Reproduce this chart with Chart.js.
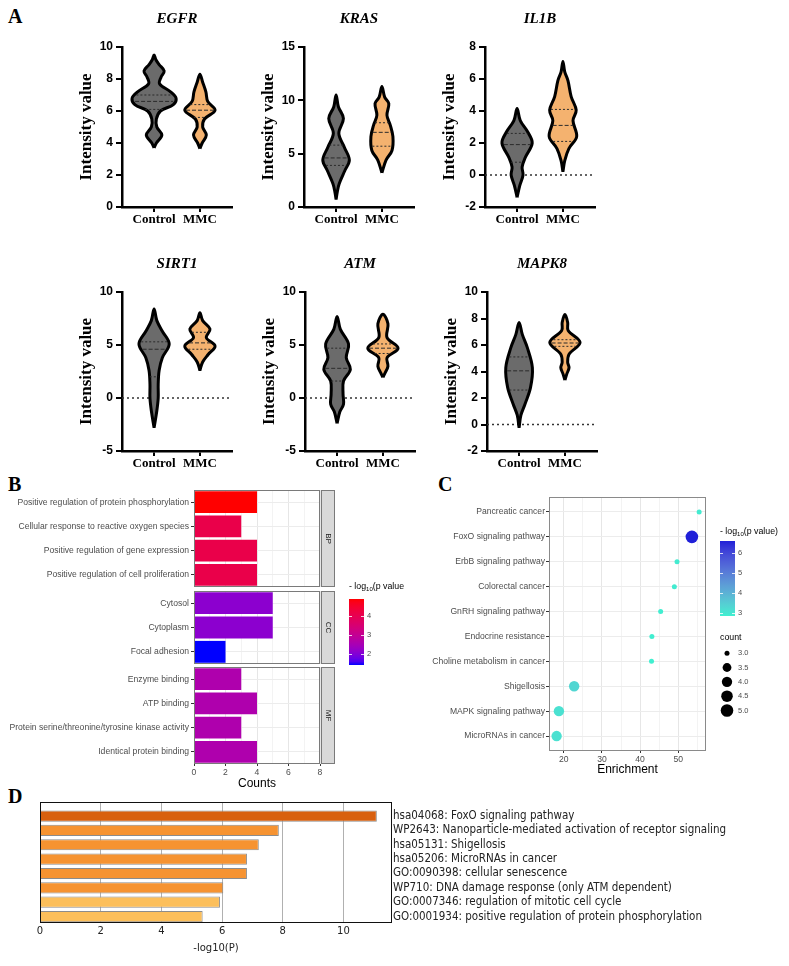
<!DOCTYPE html>
<html>
<head>
<meta charset="utf-8">
<script src="https://cdn.jsdelivr.net/npm/chart.js@4.4.0/dist/chart.umd.min.js"></script>
<style>
  body { margin: 0; background: #fff; width: 789px; height: 966px; position: relative; overflow: hidden; }
  canvas { position: absolute; }
  .panel { position: absolute; font: bold 20px 'Liberation Serif', 'Times New Roman', serif; color: #000; }
</style>
</head>
<body>
<div class="panel" style="left:8px;top:5px">A</div>
<div class="panel" style="left:8px;top:473px">B</div>
<div class="panel" style="left:438px;top:473px">C</div>
<div class="panel" style="left:8px;top:785px">D</div>
<script>
// ---------- Panel A: violin profiles [value, half width] ----------
const groups = ['Control', 'MMC'];
const egfrControl = [[3.7,0],[4.0,0.05],[4.5,0.17],[5.0,0.06],[5.5,0.05],[6.0,0.14],[6.4,0.42],[6.8,0.48],[7.2,0.36],[7.7,0.12],[8.1,0.15],[8.5,0.22],[8.9,0.11],[9.2,0.04],[9.5,0]];
const egfrMMC = [[3.65,0],[4.0,0.05],[4.5,0.14],[5.0,0.06],[5.5,0.1],[6.05,0.33],[6.6,0.17],[7.2,0.13],[7.8,0.06],[8.3,0]];
const krasControl = [[0.7,0],[1.5,0.03],[2.2,0.07],[3.4,0.19],[4.4,0.29],[5.6,0.18],[6.9,0.06],[8.3,0.16],[9.4,0.05],[10.5,0]];
const krasMMC = [[3.2,0],[4.4,0.09],[5.3,0.22],[6.6,0.24],[7.7,0.18],[8.6,0.11],[9.7,0.15],[10.3,0.06],[11.3,0]];
const il1bControl = [[-1.4,0],[-0.65,0.06],[0,0.13],[0.5,0.11],[1.1,0.18],[2.0,0.33],[2.7,0.23],[3.4,0.07],[4.15,0]];
const il1bMMC = [[0.2,0],[0.9,0.04],[1.65,0.13],[2.4,0.3],[3.4,0.22],[4.05,0.29],[4.9,0.18],[5.9,0.11],[6.45,0.04],[7.1,0]];
const sirt1Control = [[-2.8,0],[-1.2,0.06],[0,0.09],[1.3,0.09],[2.6,0.11],[3.8,0.18],[5.1,0.33],[6.3,0.18],[7.3,0.06],[8.4,0]];
const sirt1MMC = [[2.6,0],[3.4,0.06],[4.1,0.18],[4.9,0.33],[5.7,0.14],[6.5,0.22],[7.3,0.06],[8.05,0]];
const atmControl = [[-2.4,0],[-1.3,0.06],[-0.6,0.14],[0.4,0.13],[1.6,0.14],[2.7,0.29],[3.8,0.2],[5.1,0.25],[6.5,0.07],[7.7,0]];
const atmMMC = [[1.95,0],[2.3,0.04],[3.0,0.11],[3.8,0.09],[4.7,0.33],[5.7,0.09],[7.0,0.11],[7.9,0]];
const mapk8Control = [[-0.25,0],[0.7,0.04],[1.55,0.13],[2.8,0.25],[4.3,0.29],[5.8,0.18],[6.8,0.07],[7.7,0]];
const mapk8MMC = [[3.35,0],[3.8,0.04],[4.3,0.09],[4.7,0.06],[5.3,0.09],[6.2,0.33],[7.1,0.07],[7.7,0.06],[8.3,0]];
// quartiles [q1, median, q3] per group
const egfrQuart = [[6.1,6.6,7.0],[5.6,6.05,6.4]];
const krasQuart = [[3.9,4.6,5.8],[5.7,7.0,7.9]];
const il1bQuart = [[0.8,1.9,2.6],[2.1,3.1,4.1]];
const sirt1Quart = [[2.0,4.6,5.3],[4.6,5.2,6.2]];
const atmQuart = [[1.6,2.8,4.7],[4.2,4.7,5.1]];
const mapk8Quart = [[2.6,4.05,5.1],[5.9,6.15,6.4]];

// ---------- Panel B: GO terms ----------
const bpTerms = ['Positive regulation of protein phosphorylation','Cellular response to reactive oxygen species','Positive regulation of gene expression','Positive regulation of cell proliferation'];
const bpCounts = [4, 3, 4, 4];
const bpLogP = [4.88, 4.1, 4.1, 4.1];
const ccTerms = ['Cytosol','Cytoplasm','Focal adhesion'];
const ccCounts = [5, 5, 2];
const ccLogP = [2.1, 2.1, 1.42];
const mfTerms = ['Enzyme binding','ATP binding','Protein serine/threonine/tyrosine kinase activity','Identical protein binding'];
const mfCounts = [3, 4, 3, 4];
const mfLogP = [2.6, 2.6, 2.6, 2.6];

// ---------- Panel C: KEGG ----------
const cTerms = ['Pancreatic cancer','FoxO signaling pathway','ErbB signaling pathway','Colorectal cancer','GnRH signaling pathway','Endocrine resistance','Choline metabolism in cancer','Shigellosis','MAPK signaling pathway','MicroRNAs in cancer'];
const cEnrich = [55.5, 53.6, 49.7, 49.0, 45.4, 43.1, 43.0, 22.7, 18.7, 18.1];
const cCount = [3, 5, 3, 3, 3, 3, 3, 4, 4, 4];
const cLogP = [2.9, 6.58, 2.9, 2.9, 2.85, 2.85, 2.83, 3.3, 3.1, 3.1];
const countLevels = [3.0, 3.5, 4.0, 4.5, 5.0];

// ---------- Panel D: Metascape ----------
const dTerms = ['hsa04068: FoxO signaling pathway','WP2643: Nanoparticle-mediated activation of receptor signaling','hsa05131: Shigellosis','hsa05206: MicroRNAs in cancer','GO:0090398: cellular senescence','WP710: DNA damage response (only ATM dependent)','GO:0007346: regulation of mitotic cell cycle','GO:0001934: positive regulation of protein phosphorylation'];
const dLogP = [11.1, 7.87, 7.21, 6.82, 6.82, 6.04, 5.93, 5.36];

Chart.defaults.animation = false;
Chart.defaults.responsive = false;
Chart.defaults.plugins.legend.display = false;
Chart.defaults.plugins.tooltip.enabled = false;

function makeCanvas(left, top, w, h) {
  const c = document.createElement('canvas');
  c.width = w; c.height = h;
  c.style.left = left + 'px'; c.style.top = top + 'px';
  c.style.width = w + 'px'; c.style.height = h + 'px';
  document.body.appendChild(c);
  return c;
}
// fixed size axis without the label overhang padding
function fixWidth(w) { return s => { s.width = w; s.paddingTop = 0; s.paddingBottom = 0; }; }

// colour gradients interpolated in Lab, like ggplot
function hexRgb(h) { return [1,3,5].map(i => parseInt(h.substr(i, 2), 16)); }
function toLin(c) { c /= 255; return c <= 0.04045 ? c / 12.92 : Math.pow((c + 0.055) / 1.055, 2.4); }
function toSrgb(c) { c = c <= 0.0031308 ? 12.92 * c : 1.055 * Math.pow(c, 1 / 2.4) - 0.055; return Math.round(Math.max(0, Math.min(1, c)) * 255); }
function rgbLab(rgb) {
  const [r, g, b] = rgb.map(toLin);
  const x = (0.4124*r + 0.3576*g + 0.1805*b) / 0.95047, y = 0.2126*r + 0.7152*g + 0.0722*b, z = (0.0193*r + 0.1192*g + 0.9505*b) / 1.08883;
  const f = t => t > 0.008856 ? Math.cbrt(t) : 7.787*t + 16/116;
  return [116*f(y) - 16, 500*(f(x) - f(y)), 200*(f(y) - f(z))];
}
function labRgb([L, a, b]) {
  const fy = (L + 16) / 116, fx = fy + a / 500, fz = fy - b / 200;
  const fi = t => t*t*t > 0.008856 ? t*t*t : (t - 16/116) / 7.787;
  const x = fi(fx) * 0.95047, y = fi(fy), z = fi(fz) * 1.08883;
  return [3.2406*x - 1.5372*y - 0.4986*z, -0.9689*x + 1.8758*y + 0.0415*z, 0.0557*x - 0.2040*y + 1.0570*z].map(toSrgb);
}
function gradient(lo, hi, vmin, vmax) {
  const A = rgbLab(hexRgb(lo)), B = rgbLab(hexRgb(hi));
  return v => {
    const t = Math.max(0, Math.min(1, (v - vmin) / (vmax - vmin)));
    return 'rgb(' + labRgb(A.map((a, i) => a + (B[i] - a) * t)).join(',') + ')';
  };
}
const goColor = gradient('#0000ff', '#ff0000', 1.42, 4.88);
const keggColor = gradient('#40efd0', '#2020d8', 2.83, 6.58);
const metaColor = v => v >= 10 ? '#d8600f' : (v >= 6 ? '#f69331' : '#fcbf5b');
const countRadius = c => 2.5 + Math.sqrt((c - 3) / 2) * 3.8;

// ---------- violins ----------
function widthAt(prof, y) {
  for (let i = 1; i < prof.length; i++) {
    if (y <= prof[i][0]) {
      const [y0, w0] = prof[i - 1], [y1, w1] = prof[i];
      return w0 + (w1 - w0) * (y - y0) / (y1 - y0);
    }
  }
  return 0;
}
function outline(prof, center) {
  const right = prof.map(([y, w]) => ({ x: center + w, y }));
  const left = prof.slice(0, -1).reverse().map(([y, w]) => ({ x: center - w, y }));
  return right.concat(left);
}
const groupFill = ['#6b6b6b', '#f4b26f'];
const axisFont = { family: 'Liberation Sans', weight: 'bold', size: 12 };

function violinChart(left, top, h, gene, yMin, yMax, step, profiles, quarts) {
  const canvas = makeCanvas(left, top, 160, h);
  const datasets = [];
  profiles.forEach((prof, i) => {
    quarts[i].forEach((q, k) => {
      const w = widthAt(prof, q) * 0.92;
      datasets.push({ data: [{ x: i + 1 - w, y: q }, { x: i + 1 + w, y: q }], showLine: true,
        borderColor: '#2b2b2b', borderWidth: 1, borderDash: k === 1 ? [4, 2] : [2, 2], pointRadius: 0 });
    });
  });
  profiles.forEach((prof, i) => {
    datasets.push({ data: outline(prof, i + 1), showLine: true, fill: 'shape', backgroundColor: groupFill[i],
      borderColor: '#000', borderWidth: 3, borderJoinStyle: 'round', tension: 0.35, pointRadius: 0 });
  });
  if (yMin < 0) {
    datasets.push({ data: [{ x: 0.3, y: 0 }, { x: 2.7, y: 0 }], showLine: true, borderColor: '#333',
      borderWidth: 1.5, borderDash: [2, 3], pointRadius: 0 });
  }
  const yTicks = [];
  for (let v = yMin; v <= yMax; v += step) yTicks.push({ value: v });
  new Chart(canvas, {
    type: 'scatter',
    data: { datasets },
    options: {
      layout: { padding: { left: 0, right: 4, top: 0, bottom: 0 } },
      plugins: {
        title: { display: true, text: gene, fullSize: false, color: '#000',
          font: { family: 'Liberation Serif', style: 'italic', weight: 'bold', size: 15 },
          padding: { top: 10, bottom: 19 } }
      },
      scales: {
        x: { type: 'linear', min: 0.3, max: 2.7,
          afterBuildTicks: s => { s.ticks = [{ value: 1 }, { value: 2 }]; },
          ticks: { callback: v => groups[v - 1], color: '#000', padding: 0, maxRotation: 0, autoSkip: false,
            font: { family: 'Liberation Serif', weight: 'bold', size: 13 } },
          grid: { drawOnChartArea: false, color: '#000', lineWidth: 2, tickLength: 5 },
          border: { color: '#000', width: 2.5 },
          afterFit: s => { s.height = 28; } },
        y: { min: yMin, max: yMax,
          afterBuildTicks: s => { s.ticks = yTicks.slice(); },
          ticks: { color: '#000', padding: 3, font: axisFont },
          grid: { drawOnChartArea: false, color: '#000', lineWidth: 2, tickLength: 6 },
          border: { color: '#000', width: 2.5 },
          title: { display: true, text: 'Intensity value', color: '#000', padding: { top: 0, bottom: 0 },
            font: { family: 'Liberation Serif', weight: 'bold', size: 17 } },
          afterFit: s => { s.width = 46; } }
      }
    }
  });
}

violinChart(76, 0, 235, 'EGFR', 0, 10, 2, [egfrControl, egfrMMC], egfrQuart);
violinChart(258, 0, 235, 'KRAS', 0, 15, 5, [krasControl, krasMMC], krasQuart);
violinChart(439, 0, 235, 'IL1B', -2, 8, 2, [il1bControl, il1bMMC], il1bQuart);
violinChart(76, 245, 234, 'SIRT1', -5, 10, 5, [sirt1Control, sirt1MMC], sirt1Quart);
violinChart(259, 245, 234, 'ATM', -5, 10, 5, [atmControl, atmMMC], atmQuart);
violinChart(441, 245, 234, 'MAPK8', -2, 10, 2, [mapk8Control, mapk8MMC], mapk8Quart);

// ---------- Panel B ----------
const smallFont = { family: 'Liberation Sans', size: 8.6 };
function stripPlugin(label) {
  return {
    id: 'frame',
    afterDraw(chart) {
      const { ctx, chartArea: a } = chart;
      ctx.save();
      ctx.strokeStyle = '#7a7a7a'; ctx.lineWidth = 1;
      ctx.strokeRect(a.left + 0.5, a.top + 0.5, a.right - a.left - 1, a.bottom - a.top - 1);
      ctx.fillStyle = '#d9d9d9';
      ctx.fillRect(a.right + 1, a.top, 14, a.bottom - a.top);
      ctx.strokeRect(a.right + 1.5, a.top + 0.5, 13, a.bottom - a.top - 1);
      ctx.translate(a.right + 8, (a.top + a.bottom) / 2);
      ctx.rotate(Math.PI / 2);
      ctx.fillStyle = '#1a1a1a';
      ctx.font = '8px "Liberation Sans"';
      ctx.textAlign = 'center'; ctx.textBaseline = 'middle';
      ctx.fillText(label, 0, 0);
      ctx.restore();
    }
  };
}
function goPanel(top, h, terms, counts, logp, label, last) {
  const canvas = makeCanvas(0, top, 340, h);
  new Chart(canvas, {
    type: 'bar',
    data: { labels: terms, datasets: [{ data: counts, backgroundColor: logp.map(goColor), categoryPercentage: 0.9, barPercentage: 1 }] },
    options: {
      indexAxis: 'y',
      layout: { padding: { top: 1, right: 20, left: 0, bottom: 0 } },
      scales: {
        x: { min: 0, max: 8,
          ticks: { stepSize: 1, display: last, callback: v => v % 2 === 0 ? v : '', color: '#4d4d4d', padding: 1, font: smallFont, maxRotation: 0 },
          grid: { color: c => c.tick.value % 2 === 0 ? '#e6e6e6' : '#f3f3f3', drawTicks: last, tickLength: 2,
            tickColor: c => c.tick.value % 2 === 0 ? '#333' : 'rgba(0,0,0,0)' },
          border: { display: false },
          title: { display: last, text: 'Counts', color: '#000', font: { family: 'Liberation Sans', size: 12 }, padding: { top: 0, bottom: 1 } },
          afterFit: s => { s.height = last ? 28 : 0; } },
        y: { grid: { offset: false, color: '#ececec', tickColor: '#333', tickLength: 3 },
          border: { display: false },
          ticks: { color: '#4d4d4d', padding: 2, font: smallFont, autoSkip: false },
          afterFit: fixWidth(194) }
      }
    },
    plugins: [stripPlugin(label)]
  });
}
goPanel(489, 98, bpTerms, bpCounts, bpLogP, 'BP', false);
goPanel(590, 74, ccTerms, ccCounts, ccLogP, 'CC', false);
goPanel(666, 126, mfTerms, mfCounts, mfLogP, 'MF', true);

// colour bar legends
function logTitle(ctx, x, y, closing) {
  ctx.fillStyle = '#000';
  ctx.textBaseline = 'middle'; ctx.textAlign = 'left';
  ctx.font = '8.8px "Liberation Sans"';
  ctx.fillText('- log', x, y);
  x += ctx.measureText('- log').width;
  ctx.font = '6px "Liberation Sans"';
  ctx.fillText('10', x, y + 2.5);
  x += ctx.measureText('10').width;
  ctx.font = '8.8px "Liberation Sans"';
  ctx.fillText(closing ? '(p value)' : '(p value', x, y);
}
function colorbar(left, top, w, h, padTop, vmin, vmax, tickVals, colorFn, titleGap, closing) {
  const canvas = makeCanvas(left, top, w, h);
  new Chart(canvas, {
    type: 'bar',
    data: { labels: [''], datasets: [{ data: [[vmin, vmax]], barPercentage: 1, categoryPercentage: 1,
      backgroundColor: c => {
        const a = c.chart.chartArea;
        if (!a) return null;
        const g = c.chart.ctx.createLinearGradient(0, a.bottom, 0, a.top);
        for (let i = 0; i <= 20; i++) g.addColorStop(i / 20, colorFn(vmin + (vmax - vmin) * i / 20));
        return g;
      } }] },
    options: {
      layout: { padding: { top: padTop, left: 0, right: 0, bottom: 0 } },
      scales: {
        x: { display: false },
        y: { position: 'right', min: vmin, max: vmax,
          afterBuildTicks: s => { s.ticks = tickVals.map(v => ({ value: v })); },
          ticks: { color: '#4d4d4d', padding: 3, font: { family: 'Liberation Sans', size: 7.5 } },
          grid: { display: false, drawTicks: false }, border: { display: false },
          afterFit: fixWidth(w - 15) }
      }
    },
    plugins: [{
      id: 'cbTitle',
      afterDraw(chart) {
        const { ctx, chartArea: a } = chart;
        const ys = chart.scales.y;
        ctx.save();
        ctx.strokeStyle = 'rgba(255,255,255,0.8)'; ctx.lineWidth = 1;
        tickVals.forEach(v => {
          const py = Math.round(ys.getPixelForValue(v)) + 0.5;
          ctx.beginPath(); ctx.moveTo(a.left, py); ctx.lineTo(a.left + 3, py);
          ctx.moveTo(a.right - 3, py); ctx.lineTo(a.right, py); ctx.stroke();
        });
        logTitle(ctx, a.left, a.top - titleGap, closing);
        ctx.restore();
      }
    }]
  });
}
colorbar(349, 580, 70, 85, 19, 1.42, 4.88, [2, 3, 4], goColor, 12, false);

// ---------- Panel C ----------
const cCanvas = makeCanvas(420, 480, 369, 298);
new Chart(cCanvas, {
  type: 'bubble',
  data: { datasets: [{ data: cTerms.map((t, i) => ({ x: cEnrich[i], y: i, r: countRadius(cCount[i]) })),
    backgroundColor: cLogP.map(keggColor), borderWidth: 0 }] },
  options: {
    clip: false,
    layout: { padding: { top: 17, right: 83, left: 0, bottom: 0 } },
    scales: {
      x: { min: 16.1, max: 57.3,
        afterBuildTicks: s => { s.ticks = [20, 25, 30, 35, 40, 45, 50, 55].map(v => ({ value: v })); },
        ticks: { callback: v => v % 10 === 0 ? v : '', color: '#4d4d4d', padding: 1, font: smallFont, maxRotation: 0 },
        grid: { color: c => c.tick.value % 10 === 0 ? '#e6e6e6' : '#f3f3f3', tickLength: 2,
          tickColor: c => c.tick.value % 10 === 0 ? '#333' : 'rgba(0,0,0,0)' },
        border: { display: false },
        title: { display: true, text: 'Enrichment', color: '#000', font: { family: 'Liberation Sans', size: 12 }, padding: { top: 0, bottom: 1 } },
        afterFit: s => { s.height = 27; } },
      y: { min: -0.6, max: 9.6, reverse: true,
        afterBuildTicks: s => { s.ticks = cTerms.map((t, i) => ({ value: i })); },
        ticks: { callback: v => cTerms[v], color: '#4d4d4d', padding: 1, font: smallFont, autoSkip: false },
        grid: { color: '#ececec', tickColor: '#333', tickLength: 3 },
        border: { display: false },
        afterFit: fixWidth(129) }
    }
  },
  plugins: [{
    id: 'frame',
    beforeDatasetsDraw(chart) {
      const { ctx, chartArea: a } = chart;
      ctx.save();
      ctx.strokeStyle = '#8a8a8a'; ctx.lineWidth = 1;
      ctx.strokeRect(a.left + 0.5, a.top + 0.5, a.right - a.left - 1, a.bottom - a.top - 1);
      ctx.restore();
    }
  }]
});
colorbar(720, 522, 69, 94, 19, 2.83, 6.58, [3, 4, 5, 6], keggColor, 9, true);

// count legend
const countCanvas = makeCanvas(712, 628, 77, 96);
new Chart(countCanvas, {
  type: 'bubble',
  data: { datasets: [{ data: countLevels.map(v => ({ x: 0.5, y: v, r: countRadius(v) })), backgroundColor: '#000', borderWidth: 0 }] },
  options: {
    clip: false,
    layout: { padding: { top: 18, left: 7, right: 0, bottom: 0 } },
    scales: {
      x: { display: false, min: 0, max: 1 },
      y: { position: 'right', min: 2.75, max: 5.25, reverse: true,
        afterBuildTicks: s => { s.ticks = countLevels.map(v => ({ value: v })); },
        ticks: { callback: v => v.toFixed(1), color: '#4d4d4d', padding: 3, font: { family: 'Liberation Sans', size: 7.5 } },
        grid: { display: false, drawTicks: false }, border: { display: false },
        afterFit: fixWidth(54) }
    }
  },
  plugins: [{
    id: 'countTitle',
    afterDraw(chart) {
      const { ctx, chartArea: a } = chart;
      ctx.save();
      ctx.fillStyle = '#000'; ctx.font = '8.8px "Liberation Sans"';
      ctx.textBaseline = 'middle'; ctx.textAlign = 'left';
      ctx.fillText('count', a.left + 1, a.top - 8);
      ctx.restore();
    }
  }]
});

// ---------- Panel D ----------
const dCanvas = makeCanvas(30, 795, 759, 171);
new Chart(dCanvas, {
  type: 'bar',
  data: { datasets: [{ data: dLogP.map((v, i) => ({ x: v, y: i })), backgroundColor: dLogP.map(metaColor), borderColor: '#8c8c8c',
    borderWidth: 1, barPercentage: 0.78, categoryPercentage: 1 }] },
  options: {
    indexAxis: 'y',
    layout: { padding: { left: 10, top: 7, right: 0, bottom: 5 } },
    scales: {
      x: { type: 'linear', min: 0, max: 11.6,
        afterBuildTicks: s => { s.ticks = [0, 2, 4, 6, 8, 10].map(v => ({ value: v })); },
        ticks: { color: '#222', padding: 2, font: { family: 'DejaVu Sans', size: 10 }, maxRotation: 0 },
        grid: { color: '#b0b0b0', drawTicks: false },
        border: { display: false },
        title: { display: true, text: '-log10(P)', color: '#222', font: { family: 'DejaVu Sans', size: 10 }, padding: { top: 0, bottom: 7 } },
        afterFit: s => { s.height = 38; } },
      y: { type: 'linear', position: 'right', min: -0.98, max: 7.45, reverse: true, offset: false,
        afterBuildTicks: s => { s.ticks = dTerms.map((t, i) => ({ value: i })); },
        grid: { display: false, drawTicks: false, offset: false }, border: { display: false },
        ticks: { callback: v => dTerms[v], color: '#222', padding: 1, font: { family: 'DejaVu Sans Condensed', size: 11.5 }, autoSkip: false },
        afterFit: fixWidth(397) }
    }
  },
  plugins: [{
    id: 'frame',
    afterDraw(chart) {
      const { ctx, chartArea: a } = chart;
      ctx.save();
      ctx.strokeStyle = '#111'; ctx.lineWidth = 1;
      ctx.strokeRect(a.left + 0.5, a.top + 0.5, a.right - a.left - 1, a.bottom - a.top - 1);
      ctx.restore();
    }
  }]
});
</script>
</body>
</html>
